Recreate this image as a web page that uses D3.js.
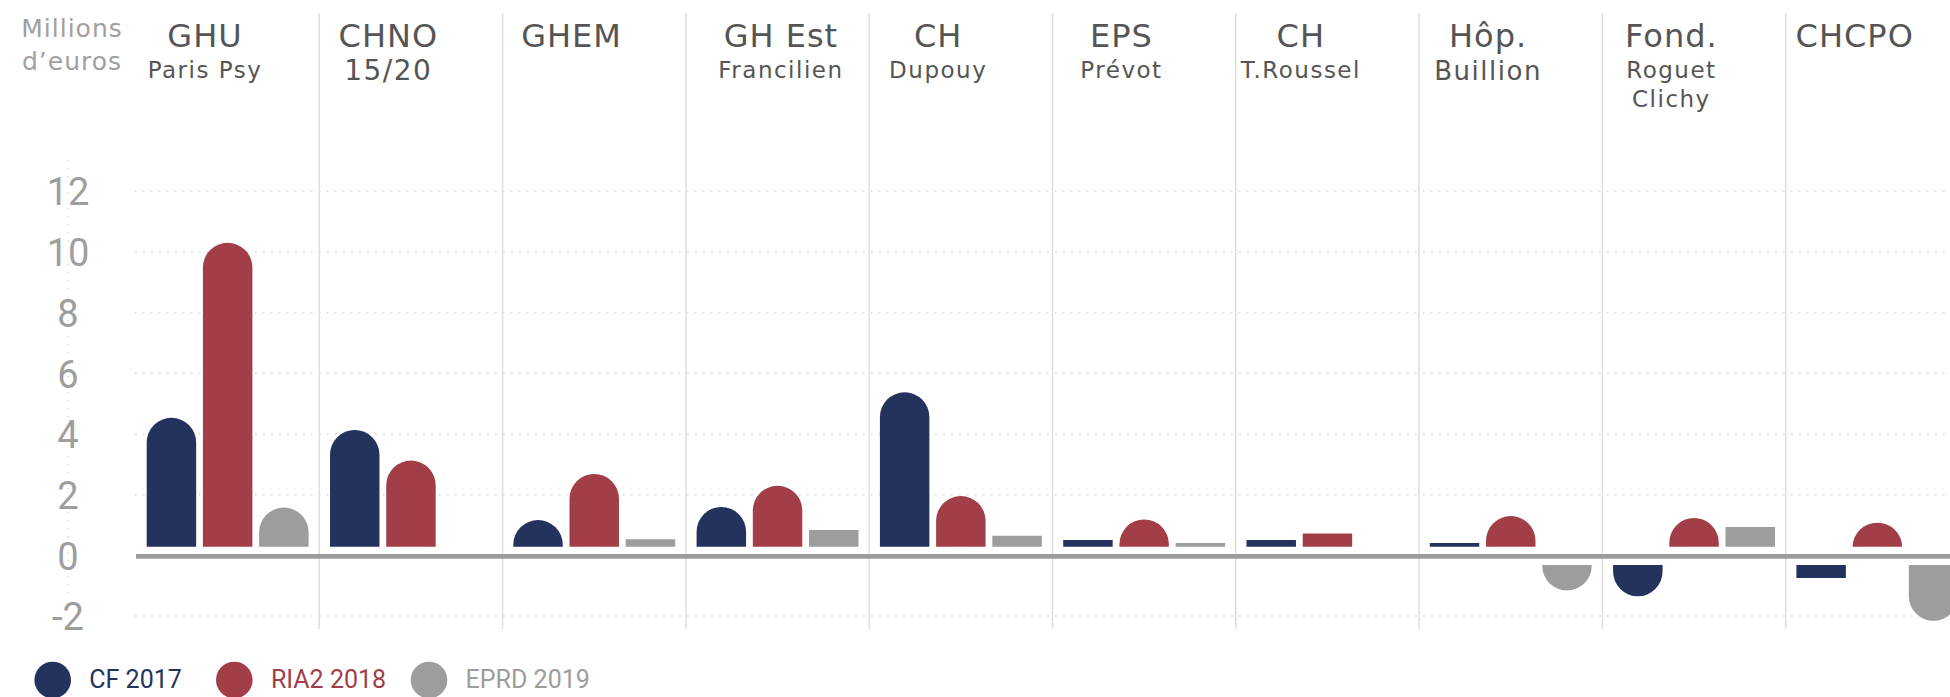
<!DOCTYPE html>
<html>
<head>
<meta charset="utf-8">
<script src="https://cdn.jsdelivr.net/npm/d3@7"></script>
<style>
  html, body { margin: 0; padding: 0; background: #fff; }
  svg { display: block; }
</style>
</head>
<body>
<div id="chart"></div>
<script>
// ---------- DATA ----------
const categories = ["GHU Paris Psy", "CHNO 15/20", "GHEM", "GH Est Francilien", "CH Dupouy",
                    "EPS Prévot", "CH T.Roussel", "Hôp. Buillion", "Fond. Roguet Clichy", "CHCPO"];
const headerLines = [["GHU", "Paris Psy"], ["CHNO", "15/20"], ["GHEM"], ["GH Est", "Francilien"],
                     ["CH", "Dupouy"], ["EPS", "Prévot"], ["CH", "T.Roussel"], ["Hôp.", "Buillion"],
                     ["Fond.", "Roguet", "Clichy"], ["CHCPO"]];
const seriesNames = ["CF 2017", "RIA2 2018", "EPRD 2019"];
const cf2017   = [4.25, 3.85, 0.88, 1.31, 5.09, 0.22, 0.22, 0.12, -1.03, -0.43];
const ria2018  = [10.02, 2.84, 2.40, 2.01, 1.67, 0.90, 0.44, 1.01, 0.95, 0.79];
const eprd2019 = [1.29, null, 0.25, 0.55, 0.36, 0.12, null, -0.84, 0.65, -1.84];
const yTicks = [12, 10, 8, 6, 4, 2, 0, -2];
const unitLabel = ["Millions", "d\u2019euros"];

// ---------- STYLE ----------
const W = 1950, H = 697;
const colors = ["#24325e", "#a23e47", "#9d9d9b"];
const headFont = "'DejaVu Sans', sans-serif";
const numFont = "'Liberation Sans Narrow', Roboto, sans-serif";
const headerShift = [0, 0, 0, 26, 0, 0, -4, 0, 0, 0];
const legendX = [52.7, 234.3, 429];

const svg = d3.select("#chart").append("svg").attr("width", W).attr("height", H);

const x = d3.scaleBand().domain(categories).range([136, 136 + 183.3 * categories.length]).padding(0);
const xi = d3.scaleBand().domain(seriesNames).range([10.7, 172.6]).paddingInner(0.12);
const y = d3.scaleLinear().domain([-2, 12]).range([616, 191.3]);

// gridlines (dotted)
const grid = svg.append("g");
grid.selectAll("line").data(yTicks.filter(d => d !== 0)).join("line")
  .attr("x1", 135).attr("x2", W)
  .attr("y1", d => y(d)).attr("y2", d => y(d))
  .attr("stroke", "#d6d6d6").attr("stroke-width", 1.5).attr("stroke-dasharray", "1.5,6.5");

// group separators
svg.append("g").selectAll("line").data(categories.slice(1)).join("line")
  .attr("x1", d => x(d)).attr("x2", d => x(d))
  .attr("y1", 13).attr("y2", 629)
  .attr("stroke", "#dedede").attr("stroke-width", 1.5);

// y axis dotted line + labels
svg.append("line").attr("x1", 68.3).attr("x2", 68.3).attr("y1", 160).attr("y2", 596)
  .attr("stroke", "#d6d6d6").attr("stroke-width", 1.5).attr("stroke-dasharray", "1.5,6.5");
const yAxis = d3.axisLeft(y).tickValues(yTicks).tickSize(0).tickFormat(d => String(d));
const ya = svg.append("g").attr("transform", "translate(68,0)").call(yAxis);
ya.select(".domain").remove();
ya.selectAll("text")
  .attr("x", 0).attr("dy", "0.36em")
  .attr("text-anchor", "middle")
  .style("font-family", numFont).style("font-size", "38px")
  .attr("fill", "#9e9e9e")
  .attr("stroke", "#fff").attr("stroke-width", 6).attr("paint-order", "stroke");

// unit label (one text, two lines)
const ut = svg.append("text")
  .attr("text-anchor", "middle")
  .style("font-family", headFont).style("font-size", "25px").style("letter-spacing", "1px")
  .attr("fill", "#a0a0a0");
unitLabel.forEach((d, i) => ut.append("tspan").attr("x", 72).attr("y", 36.7 + i * 33.3).text(d));

// headers (one text element per category, lines as tspans)
const heads = svg.append("g");
categories.forEach((c, i) => {
  const cx = x(c) + 69 + headerShift[i];
  const t0 = heads.append("text").attr("text-anchor", "middle")
    .style("font-family", headFont).attr("fill", "#555");
  headerLines[i].forEach((t, j) => {
    let size = 23, base = 78.3 + (j - 1) * 28.4, ls = 1.5;
    if (j === 0) { size = 32; base = 46.7; ls = 1; }
    else if (/^[0-9\/]+$/.test(t)) { size = 28; base = 80; ls = 1.5; }
    else if (t === "Buillion") { size = 26; base = 79.5; }
    t0.append("tspan").attr("x", cx).attr("y", base)
      .style("font-size", size + "px").style("letter-spacing", ls + "px")
      .text(t);
  });
});

// bars
function barPath(x0, w, v) {
  const gapUp = 8.6, gapDown = 9.7;
  const r = w / 2;
  if (v >= 0) {
    const yb = y(0) - gapUp, yt = y(v) - gapUp, h = yb - yt;
    if (h < 22) return `M${x0},${yb}V${yt}H${x0 + w}V${yb}Z`;
    const ry = Math.min(r, h);
    return `M${x0},${yb}V${yt + ry}A${r},${ry} 0 0 1 ${x0 + w},${yt + ry}V${yb}Z`;
  } else {
    const yb = y(0) + gapDown, yt = y(v) + gapDown, h = yt - yb;
    if (h < 22) return `M${x0},${yb}V${yt}H${x0 + w}V${yb}Z`;
    const ry = Math.min(r, h);
    return `M${x0},${yb}V${yt - ry}A${r},${ry} 0 0 0 ${x0 + w},${yt - ry}V${yb}Z`;
  }
}
const seriesValues = [cf2017, ria2018, eprd2019];
const barData = [];
categories.forEach((c, i) => {
  seriesNames.forEach((s, k) => {
    const v = seriesValues[k][i];
    if (v !== null && v !== undefined) barData.push({ c, s, k, v });
  });
});
svg.append("g").selectAll("path").data(barData).join("path")
  .attr("d", d => barPath(x(d.c) + xi(d.s), xi.bandwidth(), d.v))
  .attr("fill", d => colors[d.k]);

// zero axis line
svg.append("line").attr("x1", 136).attr("x2", W)
  .attr("y1", y(0) + 1).attr("y2", y(0) + 1)
  .attr("stroke", "#9d9d9b").attr("stroke-width", 4.7);

// legend
const lg = svg.append("g");
seriesNames.forEach((s, k) => {
  lg.append("circle").attr("cx", legendX[k]).attr("cy", 680).attr("r", 18.3).attr("fill", colors[k]);
  lg.append("text").attr("x", legendX[k] + 36.6).attr("y", 687.7)
    .style("font-family", numFont).style("font-size", "25px")
    .attr("fill", colors[k]).text(s);
});
</script>
</body>
</html>
